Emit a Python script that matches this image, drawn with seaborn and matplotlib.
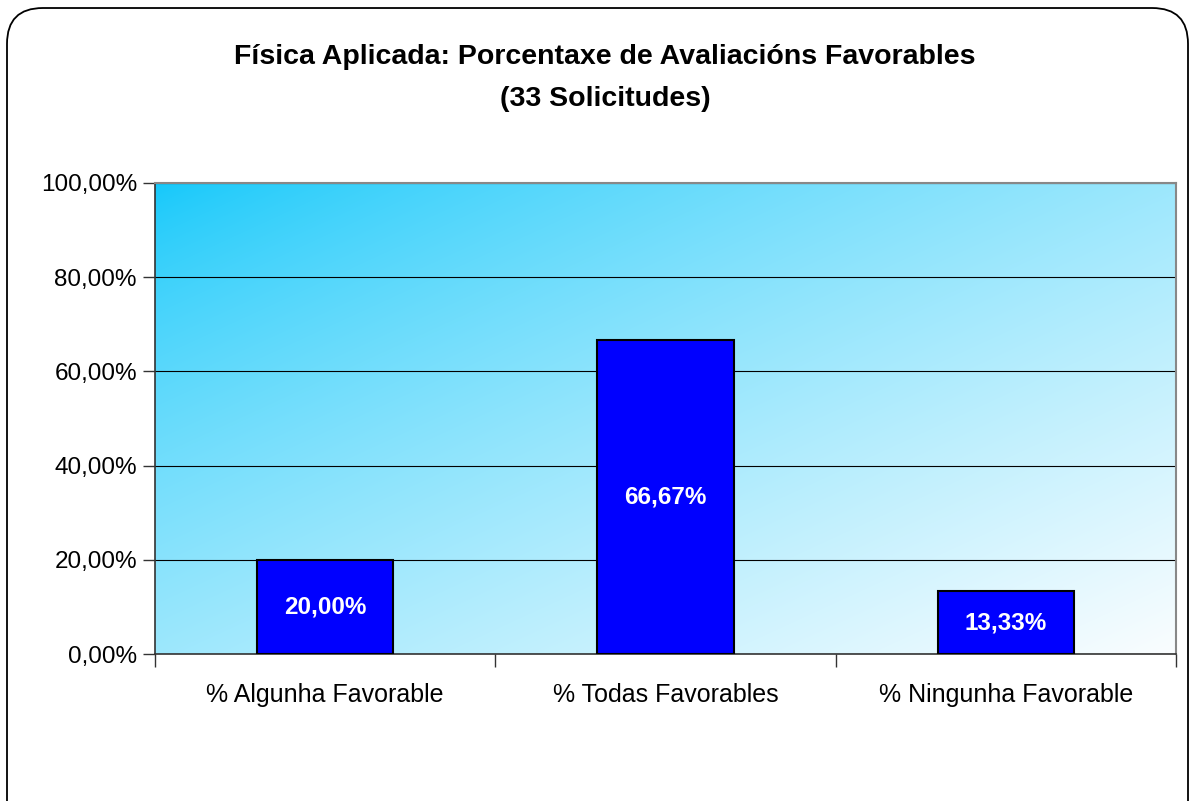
import numpy as np
import seaborn as sns
import matplotlib.pyplot as plt
from matplotlib.patches import FancyBboxPatch
from matplotlib.ticker import FuncFormatter, FixedLocator

# datos
categorias = ['% Algunha Favorable', '% Todas Favorables', '% Ningunha Favorable']
valores = [20.00, 66.67, 13.33]
etiquetas = ['20,00%', '66,67%', '13,33%']
titulo = 'Física Aplicada: Porcentaxe de Avaliacións Favorables\n(33 Solicitudes)'

sns.set_style('white')
plt.rcParams['font.family'] = ['Liberation Sans', 'DejaVu Sans']
plt.rcParams['text.color'] = 'black'
plt.rcParams['xtick.color'] = 'black'
plt.rcParams['ytick.color'] = 'black'

fig = plt.figure(figsize=(11.94, 8.01), dpi=100)
ax = fig.add_axes([155 / 1194, 147 / 801, 1021 / 1194, 471 / 801])

# marco redondeado da figura
marco = FancyBboxPatch((7 / 1194, -0.05), 1181 / 1194, 1.04,
                       boxstyle='round,pad=0,rounding_size=0.03',
                       transform=fig.transFigure, facecolor='none',
                       edgecolor='black', linewidth=1.3, mutation_aspect=1194 / 801)
fig.patches.append(marco)

# fondo degradado (cian arriba á esquerda, case branco abaixo á dereita)
gx, gy = np.meshgrid(np.linspace(0, 1, 300), np.linspace(0, 1, 200))
t = np.clip((gx + (1 - gy)) / 2, 0, 1) ** 0.75
c0 = np.array([20, 200, 250]) / 255
c1 = np.array([250, 253, 255]) / 255
img = c0[None, None, :] * (1 - t[..., None]) + c1[None, None, :] * t[..., None]
ax.imshow(img, extent=[0, 1, 0, 1], transform=ax.transAxes, aspect='auto',
          origin='lower', zorder=0, interpolation='bilinear')

sns.barplot(x=categorias, y=valores, color='#0000FF', edgecolor='black',
            linewidth=1.5, width=0.4, saturation=1, ax=ax, zorder=3)
ax.set_xlim(-0.5, 2.5)
ax.set_ylim(0, 100)

for i, (v, lab) in enumerate(zip(valores, etiquetas)):
    ax.text(i, v / 2, lab, ha='center', va='center', color='white',
            fontsize=17.5, fontweight='bold', zorder=4)

ax.yaxis.set_major_locator(FixedLocator([0, 20, 40, 60, 80, 100]))
ax.yaxis.set_major_formatter(FuncFormatter(lambda v, p: f'{v:.2f}'.replace('.', ',') + '%'))
ax.grid(axis='y', color='black', linewidth=0.8, zorder=1)
ax.set_axisbelow(True)

ax.tick_params(axis='y', left=True, length=9, width=1, color='#333333',
               labelsize=17.5, pad=4)
ax.tick_params(axis='x', which='major', length=0, labelsize=18, pad=21)
ax.set_xticks([-0.5, 0.5, 1.5, 2.5], minor=True)
ax.tick_params(axis='x', which='minor', bottom=True, length=9, width=1, color='#333333')

for lado in ['left', 'bottom']:
    ax.spines[lado].set_color('#333333')
    ax.spines[lado].set_linewidth(1.2)
for lado in ['top', 'right']:
    ax.spines[lado].set_color('#888888')
    ax.spines[lado].set_linewidth(1.5)

fig.text(605 / 1194, 1 - 78 / 801, titulo, ha='center', va='center',
         fontsize=20.5, fontweight='bold', linespacing=1.75)

fig.savefig('out.png', dpi=100)
